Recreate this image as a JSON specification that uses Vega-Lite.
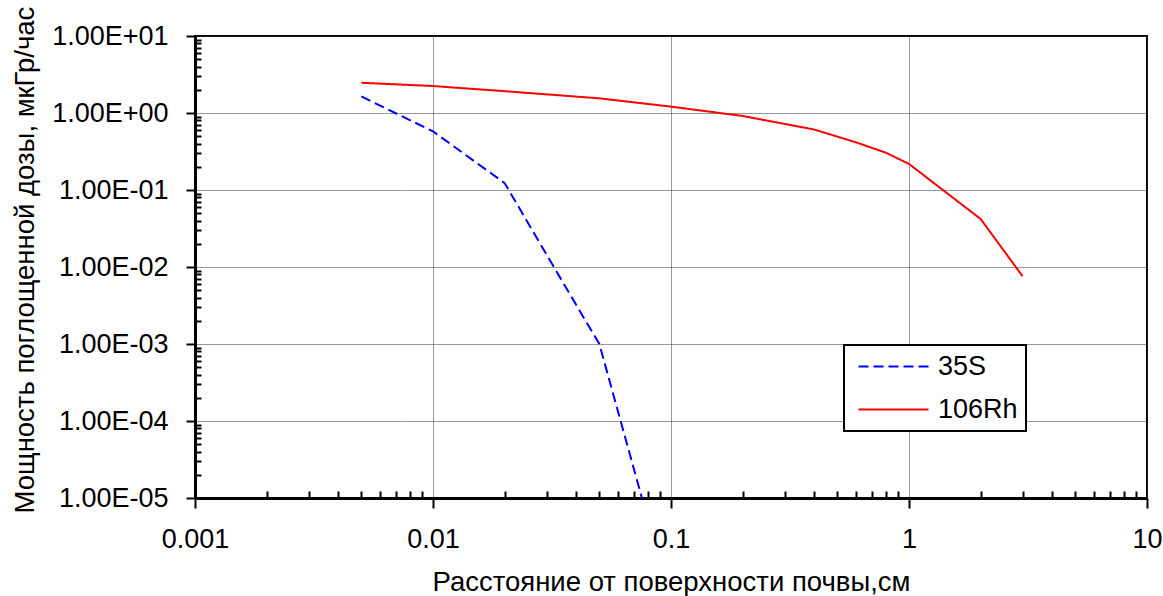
{
  "$schema": "https://vega.github.io/schema/vega-lite/v6.json",
  "autosize": {"type": "none"},
  "width": 952,
  "height": 462,
  "padding": {"left": 195, "top": 36, "right": 16, "bottom": 98},
  "background": "white",
  "config": {
    "font": "Liberation Sans",
    "view": {"stroke": "black", "strokeWidth": 2}
  },
  "data": {
    "values": [
      {"series": "35S", "depth": 0.005, "dose": 1.64},
      {"series": "35S", "depth": 0.01, "dose": 0.577},
      {"series": "35S", "depth": 0.02, "dose": 0.123},
      {"series": "35S", "depth": 0.03, "dose": 0.0145},
      {"series": "35S", "depth": 0.04, "dose": 0.0032},
      {"series": "35S", "depth": 0.05, "dose": 0.001},
      {"series": "35S", "depth": 0.1, "dose": 4.3e-7},
      {"series": "106Rh", "depth": 0.005, "dose": 2.47},
      {"series": "106Rh", "depth": 0.01, "dose": 2.24},
      {"series": "106Rh", "depth": 0.02, "dose": 1.92},
      {"series": "106Rh", "depth": 0.05, "dose": 1.55},
      {"series": "106Rh", "depth": 0.1, "dose": 1.21},
      {"series": "106Rh", "depth": 0.2, "dose": 0.915},
      {"series": "106Rh", "depth": 0.4, "dose": 0.61},
      {"series": "106Rh", "depth": 0.6, "dose": 0.415},
      {"series": "106Rh", "depth": 0.8, "dose": 0.305},
      {"series": "106Rh", "depth": 1, "dose": 0.218},
      {"series": "106Rh", "depth": 2, "dose": 0.042},
      {"series": "106Rh", "depth": 3, "dose": 0.0076}
    ]
  },
  "mark": {"type": "line", "strokeWidth": 2, "clip": true},
  "encoding": {
    "x": {
      "field": "depth",
      "type": "quantitative",
      "scale": {"type": "log", "domain": [0.001, 10], "nice": false},
      "axis": {
        "values": [0.001, 0.002, 0.003, 0.004, 0.005, 0.006, 0.007, 0.008, 0.009, 0.01, 0.02, 0.03, 0.04, 0.05, 0.06, 0.07, 0.08, 0.09, 0.1, 0.2, 0.3, 0.4, 0.5, 0.6, 0.7, 0.8, 0.9, 1, 2, 3, 4, 5, 6, 7, 8, 9, 10],
        "labelExpr": "abs(log(datum.value)/LN10 - round(log(datum.value)/LN10)) < 1e-6 ? format(datum.value, '~g') : ''",
        "labelFontSize": 27,
        "labelColor": "black",
        "labelPadding": 18,
        "labelFlush": false,
        "labelOverlap": false,
        "labelBound": false,
        "tickSize": {"condition": {"test": "abs(log(datum.value)/LN10 - round(log(datum.value)/LN10)) < 1e-6", "value": 10}, "value": -7},
        "tickColor": "black",
        "tickWidth": 2,
        "grid": true,
        "gridColor": "#333333",
        "gridDash": [1, 1],
        "gridWidth": 1,
        "gridOpacity": {"condition": {"test": "abs(log(datum.value)/LN10 - round(log(datum.value)/LN10)) < 1e-6", "value": 1}, "value": 0},
        "domainColor": "black",
        "domainWidth": 3,
        "title": "Расстояние от поверхности почвы,см",
        "titleFontSize": 27.5,
        "titleFontWeight": "normal",
        "titleColor": "black",
        "titleY": 92,
        "titleBaseline": "alphabetic"
      }
    },
    "y": {
      "field": "dose",
      "type": "quantitative",
      "scale": {"type": "log", "domain": [0.00001, 10], "nice": false},
      "axis": {
        "values": [0.00001, 0.00002, 0.00003, 0.00004, 0.00005, 0.00006, 0.00007, 0.00008, 0.00009, 0.0001, 0.0002, 0.0003, 0.0004, 0.0005, 0.0006, 0.0007, 0.0008, 0.0009, 0.001, 0.002, 0.003, 0.004, 0.005, 0.006, 0.007, 0.008, 0.009, 0.01, 0.02, 0.03, 0.04, 0.05, 0.06, 0.07, 0.08, 0.09, 0.1, 0.2, 0.3, 0.4, 0.5, 0.6, 0.7, 0.8, 0.9, 1, 2, 3, 4, 5, 6, 7, 8, 9, 10],
        "labelExpr": "abs(log(datum.value)/LN10 - round(log(datum.value)/LN10)) < 1e-6 ? '1.00E' + (round(log(datum.value)/LN10) < 0 ? '-' : '+') + '0' + abs(round(log(datum.value)/LN10)) : ''",
        "labelFontSize": 27,
        "labelColor": "black",
        "labelPadding": 18,
        "labelFlush": false,
        "labelOverlap": false,
        "labelBound": false,
        "tickSize": {"condition": {"test": "abs(log(datum.value)/LN10 - round(log(datum.value)/LN10)) < 1e-6", "value": 9}, "value": -6},
        "tickColor": "black",
        "tickWidth": 2,
        "grid": true,
        "gridColor": "#333333",
        "gridDash": [1, 1],
        "gridWidth": 1,
        "gridOpacity": {"condition": {"test": "abs(log(datum.value)/LN10 - round(log(datum.value)/LN10)) < 1e-6", "value": 1}, "value": 0},
        "domainColor": "black",
        "domainWidth": 3,
        "title": "Мощность поглощенной дозы, мкГр/час",
        "titleFontSize": 27.5,
        "titleFontWeight": "normal",
        "titleColor": "black",
        "titleAngle": -90,
        "titleAlign": "left",
        "titleBaseline": "alphabetic",
        "titleX": -162,
        "titleY": 477
      }
    },
    "color": {
      "field": "series",
      "type": "nominal",
      "scale": {"domain": ["35S", "106Rh"], "range": ["#0000ff", "#ff0000"]},
      "legend": {
        "title": null,
        "orient": "none",
        "legendX": 649,
        "legendY": 309,
        "direction": "vertical",
        "symbolType": "M-0.7,0H6.3",
        "symbolSize": 400,
        "symbolStrokeWidth": 2,
        "labelFontSize": 27,
        "labelColor": "black",
        "labelOffset": 59,
        "padding": 8,
        "rowPadding": 15,
        "fillColor": "white",
        "strokeColor": "black",
        "encode": {"legend": {"update": {"strokeWidth": {"value": 2}}}}
      }
    },
    "strokeDash": {
      "field": "series",
      "type": "nominal",
      "scale": {"domain": ["35S", "106Rh"], "range": [[10, 5], [1, 0]]},
      "legend": {"title": null}
    }
  }
}
